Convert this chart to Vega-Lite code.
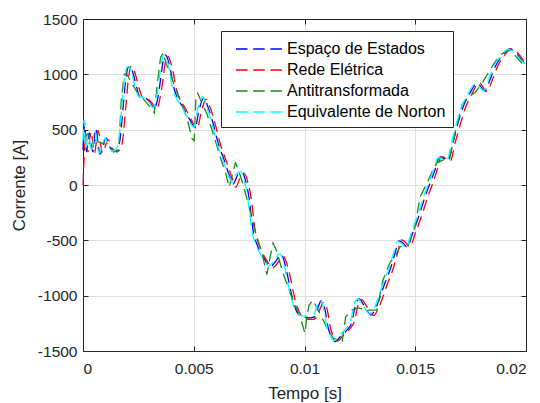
{
  "$schema": "https://vega.github.io/schema/vega-lite/v6.json",
  "width": 443,
  "height": 332,
  "autosize": {"type": "none"},
  "padding": {"left": 83, "top": 19, "right": 14, "bottom": 52},
  "background": "white",
  "config": {
    "view": {"stroke": null},
    "font": "Liberation Sans",
    "axis": {
      "domainColor": "#262626",
      "domainWidth": 1,
      "tickColor": "#262626",
      "tickSize": -5,
      "tickWidth": 1,
      "labelColor": "#262626",
      "labelFontSize": 15.5,
      "labelFont": "Liberation Sans",
      "titleColor": "#262626",
      "titleFontSize": 17,
      "titleFontWeight": "normal",
      "titleFont": "Liberation Sans",
      "gridColor": "#DFDFDF",
      "gridWidth": 1
    },
    "legend": {
      "orient": "none",
      "legendX": 138,
      "legendY": 12,
      "strokeColor": "#262626",
      "fillColor": "white",
      "padding": 7,
      "symbolType": "M-2.3,0H2.3",
      "symbolSize": 400,
      "symbolStrokeWidth": 1.3,
      "symbolDash": [11.5, 5.7],
      "symbolOffset": 20,
      "labelOffset": 17,
      "labelFontSize": 16,
      "labelFont": "Liberation Sans",
      "labelColor": "#000000",
      "rowPadding": 2
    }
  },
  "datasets": {
    "corrente": [
      {"serie": "Espaço de Estados", "t": 0.0, "i": 320},
      {"serie": "Espaço de Estados", "t": 0.00008, "i": 560},
      {"serie": "Espaço de Estados", "t": 0.00016, "i": 300},
      {"serie": "Espaço de Estados", "t": 0.00028, "i": 470},
      {"serie": "Espaço de Estados", "t": 0.00044, "i": 300},
      {"serie": "Espaço de Estados", "t": 0.00057, "i": 510},
      {"serie": "Espaço de Estados", "t": 0.00077, "i": 280},
      {"serie": "Espaço de Estados", "t": 0.00104, "i": 425},
      {"serie": "Espaço de Estados", "t": 0.00122, "i": 340},
      {"serie": "Espaço de Estados", "t": 0.00138, "i": 300},
      {"serie": "Espaço de Estados", "t": 0.00155, "i": 320},
      {"serie": "Espaço de Estados", "t": 0.00167, "i": 410},
      {"serie": "Espaço de Estados", "t": 0.00181, "i": 700},
      {"serie": "Espaço de Estados", "t": 0.00194, "i": 970},
      {"serie": "Espaço de Estados", "t": 0.00206, "i": 1070},
      {"serie": "Espaço de Estados", "t": 0.00214, "i": 1075},
      {"serie": "Espaço de Estados", "t": 0.00226, "i": 1010},
      {"serie": "Espaço de Estados", "t": 0.00242, "i": 885},
      {"serie": "Espaço de Estados", "t": 0.00257, "i": 795},
      {"serie": "Espaço de Estados", "t": 0.0028, "i": 786},
      {"serie": "Espaço de Estados", "t": 0.00302, "i": 750},
      {"serie": "Espaço de Estados", "t": 0.00322, "i": 690},
      {"serie": "Espaço de Estados", "t": 0.00335, "i": 760},
      {"serie": "Espaço de Estados", "t": 0.00348, "i": 920},
      {"serie": "Espaço de Estados", "t": 0.00362, "i": 1120},
      {"serie": "Espaço de Estados", "t": 0.00372, "i": 1175},
      {"serie": "Espaço de Estados", "t": 0.0038, "i": 1150},
      {"serie": "Espaço de Estados", "t": 0.00393, "i": 1060},
      {"serie": "Espaço de Estados", "t": 0.0041, "i": 880},
      {"serie": "Espaço de Estados", "t": 0.00424, "i": 795},
      {"serie": "Espaço de Estados", "t": 0.00451, "i": 705},
      {"serie": "Espaço de Estados", "t": 0.00483, "i": 587},
      {"serie": "Espaço de Estados", "t": 0.00506, "i": 515},
      {"serie": "Espaço de Estados", "t": 0.00524, "i": 678},
      {"serie": "Espaço de Estados", "t": 0.00546, "i": 790},
      {"serie": "Espaço de Estados", "t": 0.00564, "i": 705},
      {"serie": "Espaço de Estados", "t": 0.00587, "i": 560},
      {"serie": "Espaço de Estados", "t": 0.0061, "i": 380},
      {"serie": "Espaço de Estados", "t": 0.00637, "i": 226},
      {"serie": "Espaço de Estados", "t": 0.0066, "i": 90},
      {"serie": "Espaço de Estados", "t": 0.00678, "i": 10},
      {"serie": "Espaço de Estados", "t": 0.00698, "i": 90},
      {"serie": "Espaço de Estados", "t": 0.00718, "i": 117},
      {"serie": "Espaço de Estados", "t": 0.00735, "i": 30},
      {"serie": "Espaço de Estados", "t": 0.0075, "i": -120},
      {"serie": "Espaço de Estados", "t": 0.00767, "i": -400},
      {"serie": "Espaço de Estados", "t": 0.0079, "i": -560},
      {"serie": "Espaço de Estados", "t": 0.00822, "i": -678},
      {"serie": "Espaço de Estados", "t": 0.00844, "i": -741},
      {"serie": "Espaço de Estados", "t": 0.0087, "i": -690},
      {"serie": "Espaço de Estados", "t": 0.00894, "i": -625},
      {"serie": "Espaço de Estados", "t": 0.0091, "i": -700},
      {"serie": "Espaço de Estados", "t": 0.00921, "i": -795},
      {"serie": "Espaço de Estados", "t": 0.00944, "i": -1012},
      {"serie": "Espaço de Estados", "t": 0.00966, "i": -1148},
      {"serie": "Espaço de Estados", "t": 0.00993, "i": -1193},
      {"serie": "Espaço de Estados", "t": 0.01025, "i": -1200},
      {"serie": "Espaço de Estados", "t": 0.01047, "i": -1190},
      {"serie": "Espaço de Estados", "t": 0.01062, "i": -1100},
      {"serie": "Espaço de Estados", "t": 0.01075, "i": -1048},
      {"serie": "Espaço de Estados", "t": 0.01093, "i": -1130},
      {"serie": "Espaço de Estados", "t": 0.01106, "i": -1283},
      {"serie": "Espaço de Estados", "t": 0.01124, "i": -1373},
      {"serie": "Espaço de Estados", "t": 0.01138, "i": -1415},
      {"serie": "Espaço de Estados", "t": 0.0116, "i": -1373},
      {"serie": "Espaço de Estados", "t": 0.01192, "i": -1310},
      {"serie": "Espaço de Estados", "t": 0.01214, "i": -1238},
      {"serie": "Espaço de Estados", "t": 0.01228, "i": -1102},
      {"serie": "Espaço de Estados", "t": 0.01246, "i": -1030},
      {"serie": "Espaço de Estados", "t": 0.01273, "i": -1102},
      {"serie": "Espaço de Estados", "t": 0.013, "i": -1175},
      {"serie": "Espaço de Estados", "t": 0.01318, "i": -1130},
      {"serie": "Espaço de Estados", "t": 0.01341, "i": -1012},
      {"serie": "Espaço de Estados", "t": 0.01363, "i": -886},
      {"serie": "Espaço de Estados", "t": 0.01386, "i": -768},
      {"serie": "Espaço de Estados", "t": 0.01409, "i": -615},
      {"serie": "Espaço de Estados", "t": 0.01427, "i": -506},
      {"serie": "Espaço de Estados", "t": 0.01445, "i": -524},
      {"serie": "Espaço de Estados", "t": 0.01463, "i": -560},
      {"serie": "Espaço de Estados", "t": 0.0149, "i": -425},
      {"serie": "Espaço de Estados", "t": 0.01521, "i": -253},
      {"serie": "Espaço de Estados", "t": 0.01544, "i": -108},
      {"serie": "Espaço de Estados", "t": 0.01567, "i": 18},
      {"serie": "Espaço de Estados", "t": 0.01589, "i": 136},
      {"serie": "Espaço de Estados", "t": 0.01607, "i": 244},
      {"serie": "Espaço de Estados", "t": 0.01616, "i": 253},
      {"serie": "Espaço de Estados", "t": 0.01648, "i": 217},
      {"serie": "Espaço de Estados", "t": 0.0167, "i": 380},
      {"serie": "Espaço de Estados", "t": 0.01693, "i": 560},
      {"serie": "Espaço de Estados", "t": 0.01716, "i": 705},
      {"serie": "Espaço de Estados", "t": 0.01747, "i": 831},
      {"serie": "Espaço de Estados", "t": 0.01779, "i": 922},
      {"serie": "Espaço de Estados", "t": 0.01815, "i": 849},
      {"serie": "Espaço de Estados", "t": 0.01837, "i": 949},
      {"serie": "Espaço de Estados", "t": 0.0186, "i": 1066},
      {"serie": "Espaço de Estados", "t": 0.01892, "i": 1166},
      {"serie": "Espaço de Estados", "t": 0.01925, "i": 1229},
      {"serie": "Espaço de Estados", "t": 0.0195, "i": 1202},
      {"serie": "Espaço de Estados", "t": 0.01973, "i": 1148},
      {"serie": "Espaço de Estados", "t": 0.02, "i": 1084},

      {"serie": "Rede Elétrica", "t": 0.0, "i": 0},
      {"serie": "Rede Elétrica", "t": 0.00005, "i": 250},
      {"serie": "Rede Elétrica", "t": 0.00012, "i": 420},
      {"serie": "Rede Elétrica", "t": 0.00022, "i": 300},
      {"serie": "Rede Elétrica", "t": 0.00036, "i": 480},
      {"serie": "Rede Elétrica", "t": 0.00052, "i": 290},
      {"serie": "Rede Elétrica", "t": 0.00068, "i": 490},
      {"serie": "Rede Elétrica", "t": 0.00088, "i": 290},
      {"serie": "Rede Elétrica", "t": 0.00114, "i": 410},
      {"serie": "Rede Elétrica", "t": 0.00132, "i": 330},
      {"serie": "Rede Elétrica", "t": 0.0015, "i": 300},
      {"serie": "Rede Elétrica", "t": 0.00168, "i": 320},
      {"serie": "Rede Elétrica", "t": 0.0018, "i": 420},
      {"serie": "Rede Elétrica", "t": 0.00193, "i": 700},
      {"serie": "Rede Elétrica", "t": 0.00205, "i": 960},
      {"serie": "Rede Elétrica", "t": 0.00218, "i": 1075},
      {"serie": "Rede Elétrica", "t": 0.00226, "i": 1060},
      {"serie": "Rede Elétrica", "t": 0.00238, "i": 990},
      {"serie": "Rede Elétrica", "t": 0.00254, "i": 870},
      {"serie": "Rede Elétrica", "t": 0.00268, "i": 795},
      {"serie": "Rede Elétrica", "t": 0.0029, "i": 780},
      {"serie": "Rede Elétrica", "t": 0.00312, "i": 740},
      {"serie": "Rede Elétrica", "t": 0.00332, "i": 680},
      {"serie": "Rede Elétrica", "t": 0.00345, "i": 760},
      {"serie": "Rede Elétrica", "t": 0.00358, "i": 910},
      {"serie": "Rede Elétrica", "t": 0.00372, "i": 1110},
      {"serie": "Rede Elétrica", "t": 0.00384, "i": 1165},
      {"serie": "Rede Elétrica", "t": 0.00392, "i": 1130},
      {"serie": "Rede Elétrica", "t": 0.00405, "i": 1040},
      {"serie": "Rede Elétrica", "t": 0.0042, "i": 880},
      {"serie": "Rede Elétrica", "t": 0.00434, "i": 790},
      {"serie": "Rede Elétrica", "t": 0.0046, "i": 700},
      {"serie": "Rede Elétrica", "t": 0.00492, "i": 580},
      {"serie": "Rede Elétrica", "t": 0.00515, "i": 505},
      {"serie": "Rede Elétrica", "t": 0.00534, "i": 660},
      {"serie": "Rede Elétrica", "t": 0.00556, "i": 775},
      {"serie": "Rede Elétrica", "t": 0.00574, "i": 700},
      {"serie": "Rede Elétrica", "t": 0.00597, "i": 550},
      {"serie": "Rede Elétrica", "t": 0.0062, "i": 370},
      {"serie": "Rede Elétrica", "t": 0.00647, "i": 215},
      {"serie": "Rede Elétrica", "t": 0.00672, "i": 70},
      {"serie": "Rede Elétrica", "t": 0.0069, "i": -20},
      {"serie": "Rede Elétrica", "t": 0.00708, "i": 60},
      {"serie": "Rede Elétrica", "t": 0.00728, "i": 105},
      {"serie": "Rede Elétrica", "t": 0.00745, "i": 20},
      {"serie": "Rede Elétrica", "t": 0.0076, "i": -130},
      {"serie": "Rede Elétrica", "t": 0.00777, "i": -410},
      {"serie": "Rede Elétrica", "t": 0.008, "i": -565},
      {"serie": "Rede Elétrica", "t": 0.00832, "i": -690},
      {"serie": "Rede Elétrica", "t": 0.00855, "i": -750},
      {"serie": "Rede Elétrica", "t": 0.0088, "i": -700},
      {"serie": "Rede Elétrica", "t": 0.00902, "i": -640},
      {"serie": "Rede Elétrica", "t": 0.0092, "i": -710},
      {"serie": "Rede Elétrica", "t": 0.00932, "i": -800},
      {"serie": "Rede Elétrica", "t": 0.00955, "i": -1015},
      {"serie": "Rede Elétrica", "t": 0.00977, "i": -1150},
      {"serie": "Rede Elétrica", "t": 0.01004, "i": -1210},
      {"serie": "Rede Elétrica", "t": 0.01035, "i": -1215},
      {"serie": "Rede Elétrica", "t": 0.01057, "i": -1190},
      {"serie": "Rede Elétrica", "t": 0.01072, "i": -1110},
      {"serie": "Rede Elétrica", "t": 0.01086, "i": -1060},
      {"serie": "Rede Elétrica", "t": 0.01104, "i": -1140},
      {"serie": "Rede Elétrica", "t": 0.01117, "i": -1290},
      {"serie": "Rede Elétrica", "t": 0.01135, "i": -1380},
      {"serie": "Rede Elétrica", "t": 0.0115, "i": -1410},
      {"serie": "Rede Elétrica", "t": 0.01172, "i": -1365},
      {"serie": "Rede Elétrica", "t": 0.01204, "i": -1300},
      {"serie": "Rede Elétrica", "t": 0.01226, "i": -1230},
      {"serie": "Rede Elétrica", "t": 0.0124, "i": -1100},
      {"serie": "Rede Elétrica", "t": 0.01257, "i": -1035},
      {"serie": "Rede Elétrica", "t": 0.01285, "i": -1110},
      {"serie": "Rede Elétrica", "t": 0.01312, "i": -1180},
      {"serie": "Rede Elétrica", "t": 0.0133, "i": -1130},
      {"serie": "Rede Elétrica", "t": 0.01353, "i": -1015},
      {"serie": "Rede Elétrica", "t": 0.01375, "i": -890},
      {"serie": "Rede Elétrica", "t": 0.01398, "i": -770},
      {"serie": "Rede Elétrica", "t": 0.01421, "i": -610},
      {"serie": "Rede Elétrica", "t": 0.01437, "i": -495},
      {"serie": "Rede Elétrica", "t": 0.01455, "i": -515},
      {"serie": "Rede Elétrica", "t": 0.01475, "i": -560},
      {"serie": "Rede Elétrica", "t": 0.01502, "i": -425},
      {"serie": "Rede Elétrica", "t": 0.01533, "i": -255},
      {"serie": "Rede Elétrica", "t": 0.01556, "i": -110},
      {"serie": "Rede Elétrica", "t": 0.01579, "i": 15},
      {"serie": "Rede Elétrica", "t": 0.01601, "i": 150},
      {"serie": "Rede Elétrica", "t": 0.01615, "i": 250},
      {"serie": "Rede Elétrica", "t": 0.01625, "i": 255},
      {"serie": "Rede Elétrica", "t": 0.01658, "i": 215},
      {"serie": "Rede Elétrica", "t": 0.0168, "i": 380},
      {"serie": "Rede Elétrica", "t": 0.01705, "i": 560},
      {"serie": "Rede Elétrica", "t": 0.01728, "i": 705},
      {"serie": "Rede Elétrica", "t": 0.01759, "i": 835},
      {"serie": "Rede Elétrica", "t": 0.01787, "i": 925},
      {"serie": "Rede Elétrica", "t": 0.01825, "i": 845},
      {"serie": "Rede Elétrica", "t": 0.01847, "i": 945},
      {"serie": "Rede Elétrica", "t": 0.0187, "i": 1065},
      {"serie": "Rede Elétrica", "t": 0.01902, "i": 1170},
      {"serie": "Rede Elétrica", "t": 0.01935, "i": 1232},
      {"serie": "Rede Elétrica", "t": 0.0196, "i": 1200},
      {"serie": "Rede Elétrica", "t": 0.01983, "i": 1140},
      {"serie": "Rede Elétrica", "t": 0.02, "i": 1090},

      {"serie": "Antitransformada", "t": 0.0, "i": 450},
      {"serie": "Antitransformada", "t": 0.0001, "i": 430},
      {"serie": "Antitransformada", "t": 0.0002, "i": 460},
      {"serie": "Antitransformada", "t": 0.0004, "i": 420},
      {"serie": "Antitransformada", "t": 0.0007, "i": 390},
      {"serie": "Antitransformada", "t": 0.001, "i": 370},
      {"serie": "Antitransformada", "t": 0.0013, "i": 330},
      {"serie": "Antitransformada", "t": 0.00155, "i": 300},
      {"serie": "Antitransformada", "t": 0.00162, "i": 330},
      {"serie": "Antitransformada", "t": 0.00172, "i": 750},
      {"serie": "Antitransformada", "t": 0.00186, "i": 1000},
      {"serie": "Antitransformada", "t": 0.00195, "i": 1010},
      {"serie": "Antitransformada", "t": 0.0022, "i": 920},
      {"serie": "Antitransformada", "t": 0.0025, "i": 820},
      {"serie": "Antitransformada", "t": 0.0028, "i": 760},
      {"serie": "Antitransformada", "t": 0.00305, "i": 700},
      {"serie": "Antitransformada", "t": 0.00322, "i": 650},
      {"serie": "Antitransformada", "t": 0.00335, "i": 900},
      {"serie": "Antitransformada", "t": 0.0035, "i": 1150},
      {"serie": "Antitransformada", "t": 0.00362, "i": 1195},
      {"serie": "Antitransformada", "t": 0.00375, "i": 1100},
      {"serie": "Antitransformada", "t": 0.00395, "i": 1000},
      {"serie": "Antitransformada", "t": 0.0042, "i": 860},
      {"serie": "Antitransformada", "t": 0.00445, "i": 740},
      {"serie": "Antitransformada", "t": 0.0047, "i": 600},
      {"serie": "Antitransformada", "t": 0.00492, "i": 420},
      {"serie": "Antitransformada", "t": 0.00502, "i": 400},
      {"serie": "Antitransformada", "t": 0.0051, "i": 800},
      {"serie": "Antitransformada", "t": 0.00518, "i": 830},
      {"serie": "Antitransformada", "t": 0.00535, "i": 750},
      {"serie": "Antitransformada", "t": 0.0056, "i": 640},
      {"serie": "Antitransformada", "t": 0.0059, "i": 450},
      {"serie": "Antitransformada", "t": 0.0062, "i": 250},
      {"serie": "Antitransformada", "t": 0.00645, "i": 100},
      {"serie": "Antitransformada", "t": 0.0066, "i": -20},
      {"serie": "Antitransformada", "t": 0.00675, "i": 100},
      {"serie": "Antitransformada", "t": 0.00688, "i": 200},
      {"serie": "Antitransformada", "t": 0.007, "i": 150},
      {"serie": "Antitransformada", "t": 0.0072, "i": 20},
      {"serie": "Antitransformada", "t": 0.00745, "i": -160},
      {"serie": "Antitransformada", "t": 0.00775, "i": -400},
      {"serie": "Antitransformada", "t": 0.00808, "i": -615},
      {"serie": "Antitransformada", "t": 0.0083, "i": -810},
      {"serie": "Antitransformada", "t": 0.00845, "i": -650},
      {"serie": "Antitransformada", "t": 0.00858, "i": -525},
      {"serie": "Antitransformada", "t": 0.00875, "i": -600},
      {"serie": "Antitransformada", "t": 0.009, "i": -780},
      {"serie": "Antitransformada", "t": 0.00935, "i": -975},
      {"serie": "Antitransformada", "t": 0.0098, "i": -1190},
      {"serie": "Antitransformada", "t": 0.01002, "i": -1340},
      {"serie": "Antitransformada", "t": 0.0101, "i": -1200},
      {"serie": "Antitransformada", "t": 0.0102, "i": -1090},
      {"serie": "Antitransformada", "t": 0.01038, "i": -1040},
      {"serie": "Antitransformada", "t": 0.01061, "i": -1130},
      {"serie": "Antitransformada", "t": 0.01084, "i": -1220},
      {"serie": "Antitransformada", "t": 0.0111, "i": -1320},
      {"serie": "Antitransformada", "t": 0.01129, "i": -1380},
      {"serie": "Antitransformada", "t": 0.01169, "i": -1430},
      {"serie": "Antitransformada", "t": 0.01178, "i": -1300},
      {"serie": "Antitransformada", "t": 0.01186, "i": -1190},
      {"serie": "Antitransformada", "t": 0.01214, "i": -1130},
      {"serie": "Antitransformada", "t": 0.01242, "i": -1110},
      {"serie": "Antitransformada", "t": 0.01282, "i": -1130},
      {"serie": "Antitransformada", "t": 0.01327, "i": -1130},
      {"serie": "Antitransformada", "t": 0.0134, "i": -1000},
      {"serie": "Antitransformada", "t": 0.01354, "i": -860},
      {"serie": "Antitransformada", "t": 0.01386, "i": -700},
      {"serie": "Antitransformada", "t": 0.0141, "i": -640},
      {"serie": "Antitransformada", "t": 0.01431, "i": -560},
      {"serie": "Antitransformada", "t": 0.0145, "i": -545},
      {"serie": "Antitransformada", "t": 0.01467, "i": -545},
      {"serie": "Antitransformada", "t": 0.01499, "i": -380},
      {"serie": "Antitransformada", "t": 0.01521, "i": -110},
      {"serie": "Antitransformada", "t": 0.01553, "i": 18},
      {"serie": "Antitransformada", "t": 0.01578, "i": 130},
      {"serie": "Antitransformada", "t": 0.01598, "i": 200},
      {"serie": "Antitransformada", "t": 0.0163, "i": 230},
      {"serie": "Antitransformada", "t": 0.01657, "i": 255},
      {"serie": "Antitransformada", "t": 0.01685, "i": 520},
      {"serie": "Antitransformada", "t": 0.01711, "i": 723},
      {"serie": "Antitransformada", "t": 0.0174, "i": 800},
      {"serie": "Antitransformada", "t": 0.0177, "i": 835},
      {"serie": "Antitransformada", "t": 0.01805, "i": 930},
      {"serie": "Antitransformada", "t": 0.01837, "i": 1040},
      {"serie": "Antitransformada", "t": 0.0186, "i": 1110},
      {"serie": "Antitransformada", "t": 0.01883, "i": 1175},
      {"serie": "Antitransformada", "t": 0.01905, "i": 1200},
      {"serie": "Antitransformada", "t": 0.01928, "i": 1220},
      {"serie": "Antitransformada", "t": 0.01955, "i": 1160},
      {"serie": "Antitransformada", "t": 0.01982, "i": 1100},
      {"serie": "Antitransformada", "t": 0.02, "i": 1085},

      {"serie": "Equivalente de Norton", "t": 0.0, "i": 400},
      {"serie": "Equivalente de Norton", "t": 0.00005, "i": 590},
      {"serie": "Equivalente de Norton", "t": 0.00012, "i": 330},
      {"serie": "Equivalente de Norton", "t": 0.00024, "i": 450},
      {"serie": "Equivalente de Norton", "t": 0.0004, "i": 310},
      {"serie": "Equivalente de Norton", "t": 0.00053, "i": 500},
      {"serie": "Equivalente de Norton", "t": 0.00072, "i": 290},
      {"serie": "Equivalente de Norton", "t": 0.001, "i": 420},
      {"serie": "Equivalente de Norton", "t": 0.00118, "i": 340},
      {"serie": "Equivalente de Norton", "t": 0.00134, "i": 305},
      {"serie": "Equivalente de Norton", "t": 0.0015, "i": 320},
      {"serie": "Equivalente de Norton", "t": 0.00162, "i": 420},
      {"serie": "Equivalente de Norton", "t": 0.00176, "i": 720},
      {"serie": "Equivalente de Norton", "t": 0.00188, "i": 980},
      {"serie": "Equivalente de Norton", "t": 0.002, "i": 1065},
      {"serie": "Equivalente de Norton", "t": 0.00208, "i": 1070},
      {"serie": "Equivalente de Norton", "t": 0.0022, "i": 1010},
      {"serie": "Equivalente de Norton", "t": 0.00236, "i": 880},
      {"serie": "Equivalente de Norton", "t": 0.00252, "i": 800},
      {"serie": "Equivalente de Norton", "t": 0.00275, "i": 790},
      {"serie": "Equivalente de Norton", "t": 0.00297, "i": 755},
      {"serie": "Equivalente de Norton", "t": 0.00316, "i": 700},
      {"serie": "Equivalente de Norton", "t": 0.0033, "i": 770},
      {"serie": "Equivalente de Norton", "t": 0.00342, "i": 930},
      {"serie": "Equivalente de Norton", "t": 0.00356, "i": 1130},
      {"serie": "Equivalente de Norton", "t": 0.00366, "i": 1180},
      {"serie": "Equivalente de Norton", "t": 0.00374, "i": 1160},
      {"serie": "Equivalente de Norton", "t": 0.00387, "i": 1065},
      {"serie": "Equivalente de Norton", "t": 0.00404, "i": 880},
      {"serie": "Equivalente de Norton", "t": 0.00418, "i": 800},
      {"serie": "Equivalente de Norton", "t": 0.00445, "i": 710},
      {"serie": "Equivalente de Norton", "t": 0.00477, "i": 590},
      {"serie": "Equivalente de Norton", "t": 0.005, "i": 525},
      {"serie": "Equivalente de Norton", "t": 0.00518, "i": 690},
      {"serie": "Equivalente de Norton", "t": 0.0054, "i": 800},
      {"serie": "Equivalente de Norton", "t": 0.00558, "i": 715},
      {"serie": "Equivalente de Norton", "t": 0.00581, "i": 565},
      {"serie": "Equivalente de Norton", "t": 0.00604, "i": 385},
      {"serie": "Equivalente de Norton", "t": 0.00631, "i": 230},
      {"serie": "Equivalente de Norton", "t": 0.00654, "i": 100},
      {"serie": "Equivalente de Norton", "t": 0.00672, "i": 25},
      {"serie": "Equivalente de Norton", "t": 0.00692, "i": 100},
      {"serie": "Equivalente de Norton", "t": 0.00712, "i": 120},
      {"serie": "Equivalente de Norton", "t": 0.00729, "i": 35},
      {"serie": "Equivalente de Norton", "t": 0.00744, "i": -115},
      {"serie": "Equivalente de Norton", "t": 0.00761, "i": -395},
      {"serie": "Equivalente de Norton", "t": 0.00784, "i": -555},
      {"serie": "Equivalente de Norton", "t": 0.00816, "i": -670},
      {"serie": "Equivalente de Norton", "t": 0.00838, "i": -730},
      {"serie": "Equivalente de Norton", "t": 0.00864, "i": -680},
      {"serie": "Equivalente de Norton", "t": 0.00888, "i": -620},
      {"serie": "Equivalente de Norton", "t": 0.00904, "i": -690},
      {"serie": "Equivalente de Norton", "t": 0.00915, "i": -790},
      {"serie": "Equivalente de Norton", "t": 0.00938, "i": -1005},
      {"serie": "Equivalente de Norton", "t": 0.0096, "i": -1140},
      {"serie": "Equivalente de Norton", "t": 0.00987, "i": -1180},
      {"serie": "Equivalente de Norton", "t": 0.01019, "i": -1185},
      {"serie": "Equivalente de Norton", "t": 0.01041, "i": -1175},
      {"serie": "Equivalente de Norton", "t": 0.01056, "i": -1090},
      {"serie": "Equivalente de Norton", "t": 0.01069, "i": -1045},
      {"serie": "Equivalente de Norton", "t": 0.01087, "i": -1125},
      {"serie": "Equivalente de Norton", "t": 0.011, "i": -1275},
      {"serie": "Equivalente de Norton", "t": 0.01118, "i": -1365},
      {"serie": "Equivalente de Norton", "t": 0.01132, "i": -1405},
      {"serie": "Equivalente de Norton", "t": 0.01154, "i": -1365},
      {"serie": "Equivalente de Norton", "t": 0.01186, "i": -1300},
      {"serie": "Equivalente de Norton", "t": 0.01208, "i": -1230},
      {"serie": "Equivalente de Norton", "t": 0.01222, "i": -1095},
      {"serie": "Equivalente de Norton", "t": 0.0124, "i": -1030},
      {"serie": "Equivalente de Norton", "t": 0.01267, "i": -1095},
      {"serie": "Equivalente de Norton", "t": 0.01294, "i": -1165},
      {"serie": "Equivalente de Norton", "t": 0.01312, "i": -1125},
      {"serie": "Equivalente de Norton", "t": 0.01335, "i": -1005},
      {"serie": "Equivalente de Norton", "t": 0.01357, "i": -880},
      {"serie": "Equivalente de Norton", "t": 0.0138, "i": -760},
      {"serie": "Equivalente de Norton", "t": 0.01403, "i": -610},
      {"serie": "Equivalente de Norton", "t": 0.01421, "i": -510},
      {"serie": "Equivalente de Norton", "t": 0.01439, "i": -530},
      {"serie": "Equivalente de Norton", "t": 0.01457, "i": -565},
      {"serie": "Equivalente de Norton", "t": 0.01484, "i": -420},
      {"serie": "Equivalente de Norton", "t": 0.01515, "i": -250},
      {"serie": "Equivalente de Norton", "t": 0.01538, "i": -105},
      {"serie": "Equivalente de Norton", "t": 0.01561, "i": 20},
      {"serie": "Equivalente de Norton", "t": 0.01583, "i": 140},
      {"serie": "Equivalente de Norton", "t": 0.01601, "i": 240},
      {"serie": "Equivalente de Norton", "t": 0.0161, "i": 245},
      {"serie": "Equivalente de Norton", "t": 0.01642, "i": 222},
      {"serie": "Equivalente de Norton", "t": 0.01664, "i": 385},
      {"serie": "Equivalente de Norton", "t": 0.01687, "i": 565},
      {"serie": "Equivalente de Norton", "t": 0.0171, "i": 710},
      {"serie": "Equivalente de Norton", "t": 0.01741, "i": 835},
      {"serie": "Equivalente de Norton", "t": 0.01773, "i": 915},
      {"serie": "Equivalente de Norton", "t": 0.01809, "i": 852},
      {"serie": "Equivalente de Norton", "t": 0.01831, "i": 952},
      {"serie": "Equivalente de Norton", "t": 0.01854, "i": 1068},
      {"serie": "Equivalente de Norton", "t": 0.01886, "i": 1165},
      {"serie": "Equivalente de Norton", "t": 0.01919, "i": 1225},
      {"serie": "Equivalente de Norton", "t": 0.01944, "i": 1205},
      {"serie": "Equivalente de Norton", "t": 0.01967, "i": 1150},
      {"serie": "Equivalente de Norton", "t": 0.02, "i": 1080}
    ]
  },
  "data": {"name": "corrente"},
  "layer": [
    {
      "transform": [{"filter": "datum.serie === 'Espaço de Estados'"}],
      "mark": {"type": "line", "interpolate": "monotone", "strokeWidth": 1.3, "strokeDash": [11, 6]},
      "encoding": {
        "x": {
          "field": "t", "type": "quantitative",
          "scale": {"domain": [0, 0.02], "nice": false, "zero": false},
          "axis": {"orient": "bottom", "title": "Tempo [s]", "values": [0, 0.005, 0.01, 0.015, 0.02], "format": "~g", "grid": true, "labelPadding": 15, "titlePadding": 9}
        },
        "y": {
          "field": "i", "type": "quantitative",
          "scale": {"domain": [-1500, 1500], "nice": false, "zero": false},
          "axis": {"orient": "left", "title": "Corrente [A]", "values": [-1500, -1000, -500, 0, 500, 1000, 1500], "labelExpr": "'' + datum.value", "grid": true, "labelPadding": 11, "titlePadding": 9}
        },
        "color": {
          "field": "serie", "type": "nominal",
          "scale": {
            "domain": ["Espaço de Estados", "Rede Elétrica", "Antitransformada", "Equivalente de Norton"],
            "range": ["#0000FF", "#FF0000", "#1A8C1A", "#00FFFF"]
          },
          "legend": {"title": null}
        }
      }
    },
    {
      "transform": [{"filter": "datum.serie === 'Rede Elétrica'"}],
      "mark": {"type": "line", "interpolate": "monotone", "strokeWidth": 1.3, "strokeDash": [11, 6]},
      "encoding": {
        "x": {"field": "t", "type": "quantitative", "axis": null},
        "y": {"field": "i", "type": "quantitative", "axis": null},
        "color": {"field": "serie", "type": "nominal"}
      }
    },
    {
      "transform": [{"filter": "datum.serie === 'Antitransformada'"}],
      "mark": {"type": "line", "strokeWidth": 1.3, "strokeDash": [11, 6]},
      "encoding": {
        "x": {"field": "t", "type": "quantitative", "axis": null},
        "y": {"field": "i", "type": "quantitative", "axis": null},
        "color": {"field": "serie", "type": "nominal"}
      }
    },
    {
      "transform": [{"filter": "datum.serie === 'Equivalente de Norton'"}],
      "mark": {"type": "line", "interpolate": "monotone", "strokeWidth": 1.3, "strokeDash": [11, 6]},
      "encoding": {
        "x": {"field": "t", "type": "quantitative", "axis": null},
        "y": {"field": "i", "type": "quantitative", "axis": null},
        "color": {"field": "serie", "type": "nominal"}
      }
    },
    {
      "transform": [{"filter": "datum.serie === 'Espaço de Estados'"}],
      "mark": {"type": "line", "opacity": 0},
      "encoding": {
        "x": {"field": "t", "type": "quantitative", "axis": {"orient": "top", "title": null, "labels": false, "grid": false, "values": [0, 0.005, 0.01, 0.015, 0.02]}},
        "y": {"field": "i", "type": "quantitative", "axis": {"orient": "right", "title": null, "labels": false, "grid": false, "values": [-1500, -1000, -500, 0, 500, 1000, 1500]}}
      }
    }
  ],
  "resolve": {"axis": {"x": "independent", "y": "independent"}}
}
